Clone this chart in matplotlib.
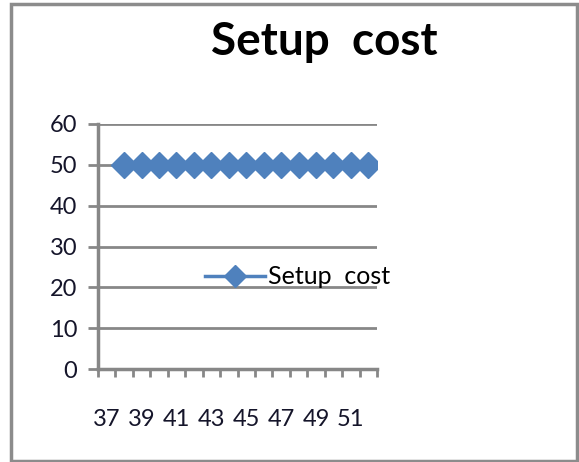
import matplotlib
matplotlib.use("Agg")
import matplotlib.pyplot as plt
from matplotlib.patches import Rectangle
import numpy as np

# setup cost per period (nothing recorded for the first period)
periods = [37, 38, 39, 40, 41, 42, 43, 44, 45, 46, 47, 48, 49, 50, 51, 52]
setup_cost = [None, 50, 50, 50, 50, 50, 50, 50, 50, 50, 50, 50, 50, 50, 50, 50]
y_ticks = [0, 10, 20, 30, 40, 50, 60]

plt.rcParams['font.family'] = ['Lato', 'DejaVu Sans']
blue = '#4F81BD'
grey = '#878787'

fig = plt.figure(figsize=(5.79, 4.62), dpi=100)
ax = fig.add_axes([98/579, 1-369/462, (377-98)/579, (369-124)/462])

pos = np.arange(1, len(periods)+1)
vals = np.array([np.nan if v is None else v for v in setup_cost], dtype=float)
ax.plot(pos, vals, color=blue, lw=2.5, marker='D', ms=13.5,
        mec=blue, mfc=blue, label='Setup  cost')

ax.set_ylim(0, 60)
ax.set_yticks(y_ticks)
ax.set_xlim(0.5, len(periods)+0.5)

# labels on every second category, tick marks between categories
ax.set_xticks(pos[::2])
ax.set_xticklabels([str(p) for p in periods[::2]])
ax.set_xticks(np.arange(0.5, len(periods)+1), minor=True)
ax.tick_params(axis='x', which='major', length=0, pad=29, labelsize=17, labelcolor='#15152a')
ax.tick_params(axis='x', which='minor', length=6, width=2, color=grey, direction='out')
ax.tick_params(axis='y', length=7, width=2, color=grey, pad=8, labelsize=17, labelcolor='#15152a')

ax.grid(axis='y', color=grey, lw=2)
ax.set_axisbelow(True)
for s in ['top', 'right']:
    ax.spines[s].set_visible(False)
for s in ['left', 'bottom']:
    ax.spines[s].set_color(grey)
    ax.spines[s].set_linewidth(2.5)

ax.legend(loc='center left', bbox_to_anchor=(0.385, 0.376), frameon=False,
          fontsize=18, handlelength=2.4, handletextpad=0.1, borderpad=0,
          borderaxespad=0, markerscale=0.8)

fig.text(0.56, 1-42/462, 'Setup  cost', ha='center', va='center',
         fontsize=33, fontweight='bold')

fig.patches.append(Rectangle((11/579, 1/462), (577-11)/579, (458-1)/462,
                             transform=fig.transFigure, fill=False,
                             ec='#8c8c8c', lw=2.5))

fig.savefig('out.png', dpi=100)
